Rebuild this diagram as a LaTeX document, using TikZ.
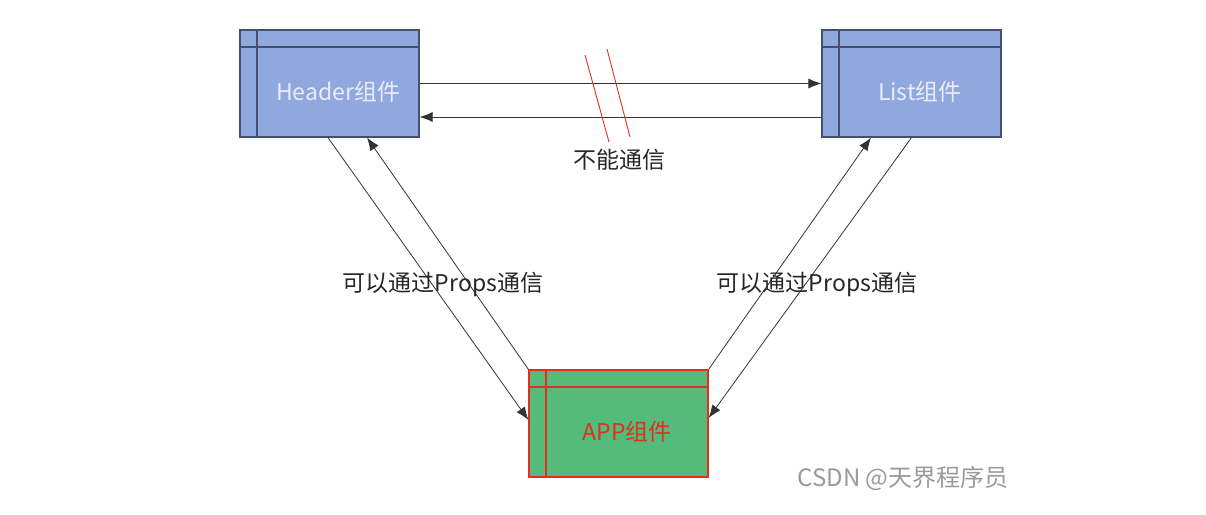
\documentclass[tikz,border=0pt]{standalone}
\usepackage{fontspec}
\setmainfont{Noto Sans CJK SC}
\usetikzlibrary{arrows.meta, positioning}

\definecolor{compblue}{HTML}{8FA8DE}
\definecolor{compedge}{HTML}{46506E}
\definecolor{appgreen}{HTML}{55BB7C}
\definecolor{appred}{HTML}{E0301E}
\definecolor{markgray}{HTML}{9A9A9A}

\begin{document}
\begin{tikzpicture}[
      x=1pt, y=-1pt,
      comp/.style={draw=#1, line width=1.2pt, minimum width=179pt, minimum height=107pt,
        inner sep=0pt,
        path picture={
          \draw[#1, line width=1.4pt]
            ([yshift=-17pt]path picture bounding box.north west) -- ([yshift=-17pt]path picture bounding box.north east)
            ([xshift=17pt]path picture bounding box.north west) -- ([xshift=17pt]path picture bounding box.south west);
        }},
      compname/.style={xshift=8.5pt, yshift=-8.5pt, font=\fontsize{23}{27}\selectfont},
      link/.style={draw=black!80, line width=0.8pt, -{Latex[length=13pt, width=10pt]}},
      lbl/.style={font=\fontsize{23}{27}\selectfont, text=black!85}
    ]

    \useasboundingbox (0,0) rectangle (1206,514);

    \node[comp=compedge, fill=compblue,
      label={[compname, text=white!92!blue]center:Header组件}] (header) at (329.5,83.5) {};
    \node[comp=compedge, fill=compblue,
      label={[compname, text=white!92!blue]center:List组件}] (list) at (911.5,83.5) {};
    \node[comp=appred, fill=appgreen,
      label={[compname, text=appred]center:APP组件}] (app) at (618.5,423.5) {};

    % header <-> list
    \draw[link] (header.east) -- (list.west);
    \draw[link] ([yshift=-33.5pt]list.west) -- ([yshift=-33.5pt]header.east);

    % red cut marks
    \coordinate (cutA) at (585,55);
    \coordinate (cutB) at (609,142);
    \coordinate (cutC) at (607,49);
    \coordinate (cutD) at (630,137);
    \draw[appred, line width=0.9pt] (cutA) -- (cutB);
    \draw[appred, line width=0.9pt] (cutC) -- (cutD);
    \node[lbl] (nocomm) at (619,160) {不能通信};

    % header <-> app
    \draw[link] ([xshift=-1.5pt]header.south) -- ([yshift=3.5pt]app.west);
    \draw[link] (app.north west) -- ([xshift=37.5pt]header.south);
    \node[lbl] (propsL) at (443,284) {可以通过Props通信};

    % list <-> app
    \draw[link] (app.north east) -- ([xshift=-40.5pt]list.south);
    \draw[link] (list.south) -- ([yshift=5.5pt]app.east);
    \node[lbl] (propsR) at (817,284) {可以通过Props通信};

    \node[font=\fontsize{24}{28}\selectfont, text=markgray] (mark) at (903,478) {CSDN @天界程序员};

  \end{tikzpicture}
\end{document}
